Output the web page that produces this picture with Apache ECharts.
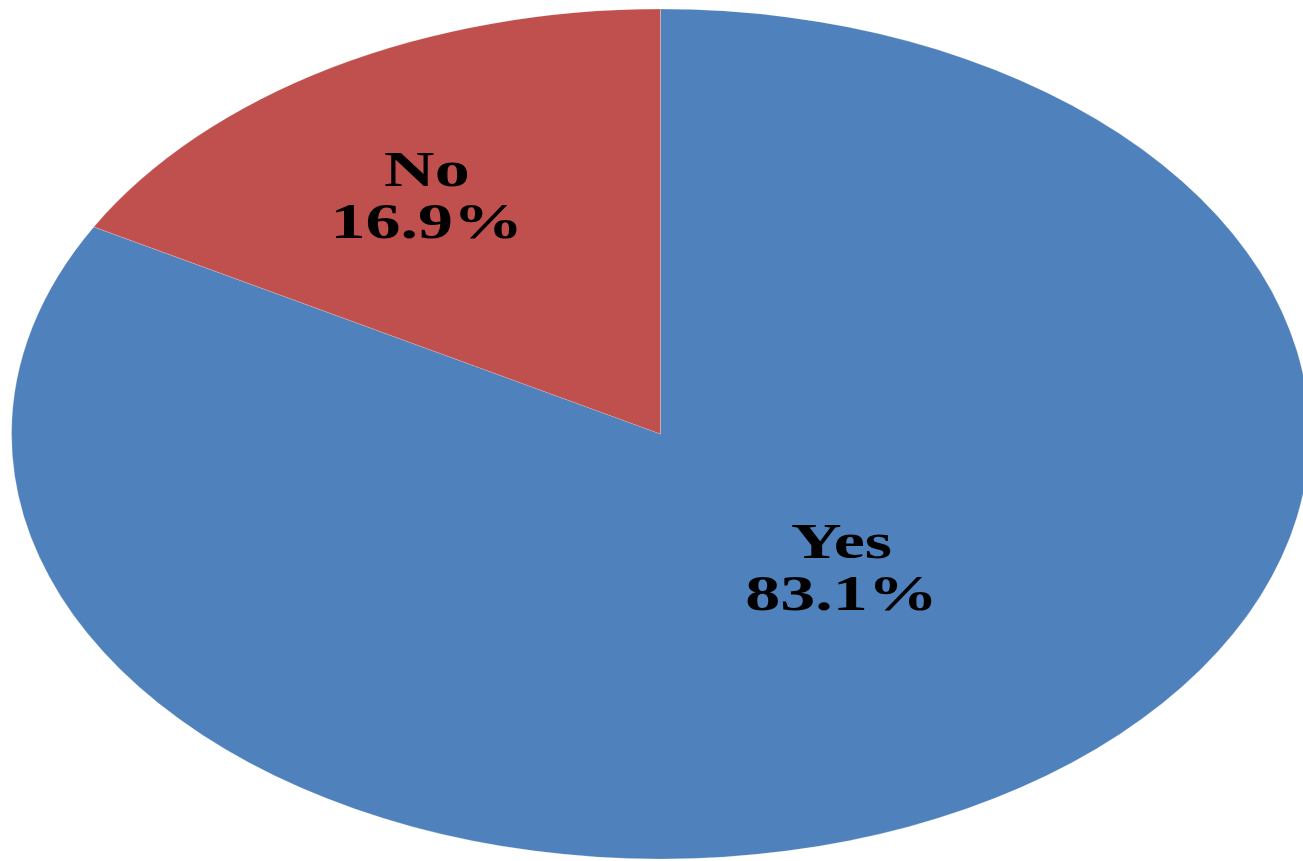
<!DOCTYPE html>
<html>
<head>
<meta charset="utf-8">
<script src="https://cdn.jsdelivr.net/npm/echarts@6/dist/echarts.min.js"></script>
<style>
html,body{margin:0;padding:0;background:#fff;}
#chart{width:1303px;height:861px;}
</style>
</head>
<body>
<div id="chart"></div>
<script>
// Data
const categories = ['Yes', 'No'];
const values = [83.1, 16.9];
const colors = ['#4F81BD', '#C0504D'];

// Layout (not data)
const CX = 660.5, CY = 434, RY = 425, STRETCH = 1.527;
const labelFrac = [[0.551, 0.375], [0.711, 0.64]];

const total = values.reduce((a, b) => a + b, 0);
const starts = [];
let acc = 0;
values.forEach(v => { starts.push(acc); acc += v; });

const chart = echarts.init(document.getElementById('chart'), null, {renderer: 'canvas'});
chart.setOption({
  backgroundColor: '#ffffff',
  animation: false,
  series: [{
    type: 'custom',
    coordinateSystem: 'none',
    data: categories.map((c, i) => ({name: c, value: values[i]})),
    renderItem: function (params, api) {
      const i = params.dataIndex;
      const a0 = -Math.PI / 2 + starts[i] / total * Math.PI * 2;
      const a1 = -Math.PI / 2 + (starts[i] + values[i]) / total * Math.PI * 2;
      const mid = (a0 + a1) / 2;
      const lx = CX + Math.cos(mid) * RY * STRETCH * labelFrac[i][0];
      const ly = CY + Math.sin(mid) * RY * labelFrac[i][1];
      return {
        type: 'group',
        children: [{
          type: 'sector',
          x: CX, y: CY,
          scaleX: STRETCH, scaleY: 1,
          shape: {cx: 0, cy: 0, r0: 0, r: RY, startAngle: a0, endAngle: a1, clockwise: true},
          style: {fill: colors[i], stroke: 'rgba(255,255,255,0.25)', lineWidth: 0.7}
        }, {
          type: 'text',
          x: lx, y: ly,
          scaleX: 1.4, scaleY: 1,
          style: {
            text: categories[i] + '\n' + values[i].toFixed(1) + '%',
            fontFamily: 'Liberation Serif',
            fontWeight: 'bold',
            fontSize: 50,
            lineHeight: 52,
            fill: '#000000',
            align: 'center',
            verticalAlign: 'middle'
          }
        }]
      };
    }
  }]
});
</script>
</body>
</html>
